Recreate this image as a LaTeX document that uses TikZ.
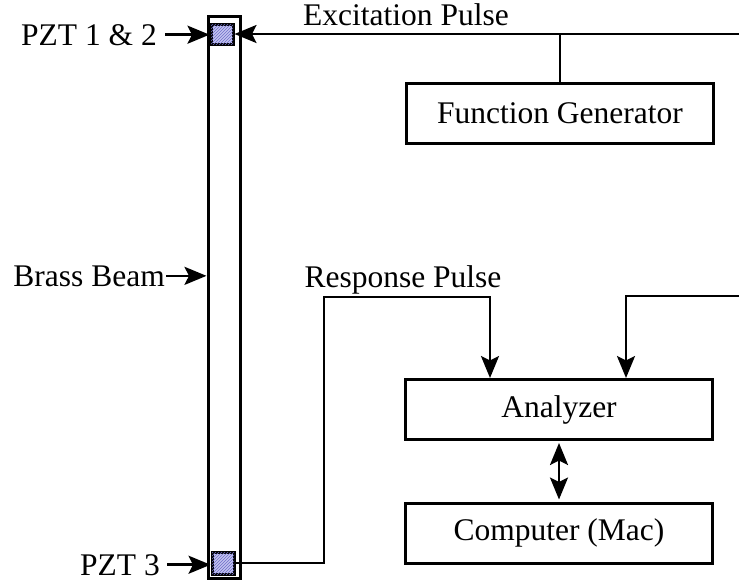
\documentclass[tikz,border=0pt]{standalone}
\usepackage{fontspec}
\setmainfont{Liberation Serif}
\usetikzlibrary{arrows.meta,patterns}
\definecolor{pztfill}{RGB}{196,196,240}
\definecolor{pzthatch}{RGB}{110,110,200}
\begin{document}
\begin{tikzpicture}[x=1pt,y=-1pt,
  txt/.style={font=\fontsize{31.5}{37}\selectfont, inner sep=0pt},
  box/.style={draw, line width=3pt, minimum width=307pt, minimum height=60pt, inner sep=0pt, font=\fontsize{31.5}{37}\selectfont},
  pzt/.style={draw, line width=3pt, fill=pztfill, inner sep=0pt,
    postaction={pattern=north east lines, pattern color=pzthatch}},
  wire/.style={line width=2.6pt},
  arr/.style={wire, -{Stealth[length=22pt,width=18pt,inset=4.5pt]}},
  darr/.style={wire, {Stealth[length=22pt,width=18pt,inset=4.5pt]}-{Stealth[length=22pt,width=18pt,inset=4.5pt]}}
]
\useasboundingbox (0,0) rectangle (739,582);

% brass beam and the piezo elements on it
\node[draw, line width=3pt, minimum width=32pt, minimum height=562pt, inner sep=0pt] (beam) at (224,297) {};
\node[pzt, minimum width=22pt, minimum height=20pt] (pzt12) at (222,34) {};
\node[pzt, minimum width=22pt, minimum height=22pt] (pzt3) at (223,563) {};

% instruments
\node[box] (fg) at (560,113) {Function Generator};
\node[box] (an) at (559,409.5) {Analyzer};
\node[box] (cm) at (559,533) {Computer (Mac)};

% labels
\node[txt, anchor=base east] (l12) at (157,45) {PZT 1 \& 2};
\node[txt, anchor=base east] (lbb) at (165,286) {Brass Beam};
\node[txt, anchor=base east] (l3) at (160,575) {PZT 3};
\node[txt, anchor=base] (lex) at (406,25) {Excitation Pulse};
\node[txt, anchor=base] (lrp) at (403,287) {Response Pulse};

% pointers to the parts
\draw[arr] ([xshift=8pt]l12.east) -- (l12.east -| pzt12.west);
\draw[arr] ([xshift=1pt]lbb.east) -- (lbb.east -| beam.west);
\draw[arr] ([xshift=7pt]l3.east) -- (l3.east -| pzt3.west);

% excitation line from the generator
\coordinate (exR) at (739,34);
\draw[arr] (exR) -- (pzt12.east);
\draw[wire] (fg.north) -- (fg.north |- exR);

% response line to the analyzer
\coordinate (rc) at (324,297);
\coordinate (rt) at (490,297);
\draw[arr] (pzt3.east) -| (rc) -- (rt) -- (rt |- an.north);

% second analyzer input
\coordinate (ar) at (739,296);
\coordinate (ac) at (626,296);
\draw[arr] (ar) -- (ac) -- (ac |- an.north);

% analyzer <-> computer
\draw[darr, shorten <=2pt, shorten >=2pt] (an.south) -- (cm.north);
\end{tikzpicture}
\end{document}
